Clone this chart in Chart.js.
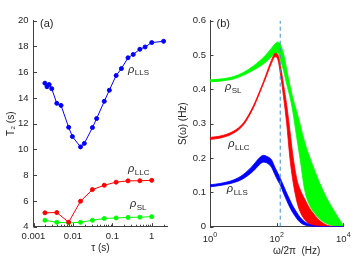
<!DOCTYPE html>
<html><head><meta charset="utf-8">
<script src="https://cdn.jsdelivr.net/npm/chart.js@4.4.1/dist/chart.umd.min.js"></script>
<style>
html,body{margin:0;padding:0;background:#fff;overflow:hidden;}
#wrap{position:relative;width:354px;height:263px;}
canvas{position:absolute;top:0;}
#ca{left:0;} #cb{left:177px;}
</style></head><body>
<div id="wrap"><canvas id="ca" width="177" height="263"></canvas><canvas id="cb" width="177" height="263"></canvas></div>
<script>
// ---------- Panel (a) data ----------
const tauGrid = [0.00195, 0.0039, 0.0078, 0.0156, 0.03125, 0.0625, 0.125, 0.25, 0.5, 1];
const t2LLC = [5.08, 5.1, 4.35, 5.98, 6.88, 7.22, 7.46, 7.56, 7.57, 7.6];
const t2SL  = [4.5, 4.34, 4.3, 4.34, 4.5, 4.64, 4.68, 4.72, 4.74, 4.78];
const tauLLS = [0.00195, 0.0022, 0.0025, 0.0029, 0.0039, 0.005, 0.0078, 0.0097, 0.0156, 0.0195, 0.0313, 0.04, 0.0625, 0.084, 0.125, 0.17, 0.25, 0.34, 0.5, 0.68, 1, 2];
const t2LLS  = [15.15, 14.87, 15.04, 14.72, 13.58, 13.42, 11.72, 11.0, 10.2, 10.47, 11.7, 12.4, 13.74, 14.6, 15.74, 16.28, 17.12, 17.38, 17.78, 17.96, 18.3, 18.4];
const aXTicks = [0.001, 0.01, 0.1, 1];
const aXTickLabels = ['0.001', '0.01', '0.1', '1'];
const aXMinor = [0.002,0.003,0.004,0.005,0.006,0.007,0.008,0.009,0.02,0.03,0.04,0.05,0.06,0.07,0.08,0.09,0.2,0.3,0.4,0.5,0.6,0.7,0.8,0.9,2];
const aYTicks = [4, 6, 8, 10, 12, 14, 16, 18, 20];

// ---------- Panel (b) data ----------
const freq    = [1, 2, 5, 10, 20, 30, 40, 50, 70, 90, 110, 130, 160, 200, 250, 300, 400, 500, 700, 1000, 1500, 2000, 3000, 5000, 10000];
const greenHi = [0.428, 0.430, 0.437, 0.449, 0.468, 0.482, 0.493, 0.503, 0.520, 0.533, 0.538, 0.530, 0.505, 0.458, 0.412, 0.378, 0.335, 0.300, 0.245, 0.200, 0.155, 0.125, 0.088, 0.050, 0.003];
const greenLo = [0.422, 0.424, 0.430, 0.441, 0.456, 0.466, 0.474, 0.482, 0.495, 0.505, 0.505, 0.485, 0.455, 0.415, 0.378, 0.340, 0.260, 0.200, 0.105, 0.060, 0.035, 0.022, 0.010, 0.003, 0.0];
const redHi   = [0.260, 0.264, 0.278, 0.302, 0.352, 0.392, 0.422, 0.448, 0.485, 0.505, 0.500, 0.470, 0.415, 0.355, 0.280, 0.215, 0.140, 0.110, 0.080, 0.052, 0.030, 0.017, 0.006, 0.001, 0.0];
const redLo   = [0.254, 0.258, 0.272, 0.296, 0.346, 0.386, 0.416, 0.440, 0.476, 0.495, 0.485, 0.445, 0.380, 0.300, 0.200, 0.140, 0.075, 0.045, 0.020, 0.006, 0.001, 0.0, 0.0, 0.0, 0.0];
const blueHi  = [0.122, 0.126, 0.136, 0.152, 0.180, 0.200, 0.208, 0.205, 0.195, 0.172, 0.155, 0.140, 0.120, 0.098, 0.078, 0.062, 0.042, 0.028, 0.014, 0.006, 0.002, 0.001, 0.0, 0.0, 0.0];
const blueLo  = [0.116, 0.120, 0.128, 0.140, 0.162, 0.180, 0.188, 0.186, 0.173, 0.150, 0.133, 0.120, 0.098, 0.076, 0.056, 0.042, 0.024, 0.013, 0.005, 0.002, 0.0, 0.0, 0.0, 0.0, 0.0];
const dashFreq = 128;
const bXTicks = [1, 100, 10000];
const bXExp = ['0', '2', '4'];
const bYTicks = [0, 0.1, 0.2, 0.3, 0.4, 0.5, 0.6];

const AXIS_COLOR = '#404040';
const TEXT_COLOR = '#262626';
const FONT = "'Liberation Sans', Arial, sans-serif";
Chart.defaults.font.family = FONT;
Chart.defaults.font.size = 9.5;
Chart.defaults.color = TEXT_COLOR;
Chart.defaults.animation = false;

function decor(cfg){
  return {
    id: 'decor',
    afterDatasetsDraw(chart){
      const ctx = chart.ctx, a = chart.chartArea, xs = chart.scales.x, ys = chart.scales.y;
      ctx.save();
      ctx.strokeStyle = AXIS_COLOR; ctx.lineWidth = 1;
      ctx.beginPath();
      cfg.xMajor.forEach(v => { const p = Math.round(xs.getPixelForValue(v)) + 0.5; ctx.moveTo(p, a.bottom); ctx.lineTo(p, a.bottom - 3.5); });
      cfg.xMinor.forEach(v => { const p = Math.round(xs.getPixelForValue(v)) + 0.5; ctx.moveTo(p, a.bottom); ctx.lineTo(p, a.bottom - 2); });
      cfg.yMajor.forEach(v => { const p = Math.round(ys.getPixelForValue(v)) + 0.5; ctx.moveTo(a.left, p); ctx.lineTo(a.left + 3.5, p); });
      ctx.stroke();
      ctx.fillStyle = TEXT_COLOR; ctx.textBaseline = 'middle'; ctx.textAlign = 'left';
      ctx.font = '11px ' + FONT;
      ctx.fillText(cfg.letter, a.left + 6.5, a.top + 3);
      cfg.labels.forEach(l => {
        const x = xs.getPixelForValue(l.x), y = ys.getPixelForValue(l.y);
        ctx.font = 'italic 11px ' + FONT; ctx.fillText('\u03C1', x, y);
        const w = ctx.measureText('\u03C1').width;
        ctx.font = '8px ' + FONT; ctx.fillText(l.sub, x + w + 0.5, y + 3.5);
      });
      if (cfg.expLabels) {
        ctx.textBaseline = 'alphabetic';
        cfg.expLabels.vals.forEach((v, i) => {
          const p = xs.getPixelForValue(v);
          ctx.font = '9.5px ' + FONT; const wb = ctx.measureText('10').width;
          ctx.font = '7px ' + FONT; const we = ctx.measureText(cfg.expLabels.exps[i]).width;
          const x0 = p - (wb + we) / 2;
          ctx.font = '9.5px ' + FONT; ctx.fillText('10', x0, a.bottom + 15);
          ctx.font = '7px ' + FONT; ctx.fillText(cfg.expLabels.exps[i], x0 + wb, a.bottom + 10);
        });
      }
      ctx.restore();
    }
  };
}

// ---------- Chart (a) ----------
new Chart(document.getElementById('ca'), {
  type: 'line',
  data: { datasets: [
    { data: tauLLS.map((t, i) => ({x: t, y: t2LLS[i]})), borderColor: '#0000ff', backgroundColor: '#0000ff', borderWidth: 1, pointRadius: 2, pointBorderWidth: 1, fill: false },
    { data: tauGrid.map((t, i) => ({x: t, y: t2LLC[i]})), borderColor: '#ff0000', backgroundColor: '#ff0000', borderWidth: 1, pointRadius: 2, pointBorderWidth: 1, fill: false },
    { data: tauGrid.map((t, i) => ({x: t, y: t2SL[i]})), borderColor: '#00ff00', backgroundColor: '#00ff00', borderWidth: 1, pointRadius: 2, pointBorderWidth: 1, fill: false }
  ]},
  options: {
    responsive: false, maintainAspectRatio: false,
    layout: { autoPadding: false, padding: { left: 0, right: 9.6, top: 20.7, bottom: 0 } },
    plugins: { legend: { display: false }, tooltip: { enabled: false } },
    scales: {
      x: { type: 'logarithmic', min: 0.001, max: 2.5,
        afterBuildTicks: s => { s.ticks = aXTicks.map(v => ({value: v})); },
        afterFit: s => { s.height = 36.3; },
        ticks: { autoSkip: false, maxRotation: 0, padding: 4, callback: (v, i) => aXTickLabels[i] },
        grid: { drawOnChartArea: false, drawTicks: false },
        border: { display: true, color: AXIS_COLOR, width: 1 },
        title: { display: true, text: '\u03C4 (s)', font: { size: 10 }, padding: { top: 0, bottom: 8.7 } } },
      y: { type: 'linear', min: 4, max: 20,
        afterBuildTicks: s => { s.ticks = aYTicks.map(v => ({value: v})); },
        afterFit: s => { s.width = 33.5; },
        ticks: { padding: 5 },
        grid: { drawOnChartArea: false, drawTicks: false },
        border: { display: true, color: AXIS_COLOR, width: 1 },
        title: { display: true, text: 'T\u2082 (s)', font: { size: 10 }, padding: { top: 5.5, bottom: 0 } } }
    }
  },
  plugins: [decor({ letter: '(a)', xMajor: aXTicks, xMinor: aXMinor, yMajor: aYTicks,
    labels: [ {x: 0.25, y: 16.2, sub: 'LLS'}, {x: 0.25, y: 8.46, sub: 'LLC'}, {x: 0.28, y: 5.76, sub: 'SL'} ] })]
});

// ---------- Chart (b) ----------
function band(arr){ return freq.map((f, i) => ({x: f, y: arr[i]})); }
const bandStyle = c => ({ borderColor: c, backgroundColor: c, borderWidth: 0.8, pointRadius: 0, cubicInterpolationMode: 'monotone' });
new Chart(document.getElementById('cb'), {
  type: 'line',
  data: { datasets: [
    { data: [{x: dashFreq, y: 0}, {x: dashFreq, y: 0.6}], borderColor: '#3f8fd0', borderWidth: 1, borderDash: [4, 3], pointRadius: 0, fill: false },
    Object.assign({ data: band(blueHi), fill: '+1' }, bandStyle('#0000ff')),
    Object.assign({ data: band(blueLo), fill: false }, bandStyle('#0000ff')),
    Object.assign({ data: band(redHi), fill: '+1' }, bandStyle('#ff0000')),
    Object.assign({ data: band(redLo), fill: false }, bandStyle('#ff0000')),
    Object.assign({ data: band(greenHi), fill: '+1' }, bandStyle('#00ff00')),
    Object.assign({ data: band(greenLo), fill: false }, bandStyle('#00ff00'))
  ]},
  options: {
    responsive: false, maintainAspectRatio: false,
    layout: { autoPadding: false, padding: { left: 0, right: 10.7, top: 20.7, bottom: 0 } },
    plugins: { legend: { display: false }, tooltip: { enabled: false } },
    scales: {
      x: { type: 'logarithmic', min: 1, max: 10000,
        afterBuildTicks: s => { s.ticks = bXTicks.map(v => ({value: v})); },
        afterFit: s => { s.height = 36.3; },
        ticks: { display: false },
        grid: { drawOnChartArea: false, drawTicks: false },
        border: { display: true, color: AXIS_COLOR, width: 1 },
        title: { display: true, text: '\u2003\u2003\u2003\u2003\u03C9/2\u03C0  (Hz)', font: { size: 10 }, padding: { top: 0, bottom: 5.3 } } },
      y: { type: 'linear', min: 0, max: 0.6,
        afterBuildTicks: s => { s.ticks = bYTicks.map(v => ({value: v})); },
        afterFit: s => { s.width = 33; },
        ticks: { padding: 4, callback: v => (v === 0 ? '0' : v.toFixed(1)) },
        grid: { drawOnChartArea: false, drawTicks: false },
        border: { display: true, color: AXIS_COLOR, width: 1 },
        title: { display: true, text: 'S(\u03C9) (Hz)', font: { size: 10 }, padding: { top: 0, bottom: 0 } } }
    }
  },
  plugins: [decor({ letter: '(b)', xMajor: bXTicks, xMinor: [], yMajor: bYTicks,
    expLabels: { vals: bXTicks, exps: bXExp },
    labels: [ {x: 2.8, y: 0.406, sub: 'SL'}, {x: 3.5, y: 0.241, sub: 'LLC'}, {x: 3.2, y: 0.109, sub: 'LLS'} ] })]
});
</script>
</body></html>
